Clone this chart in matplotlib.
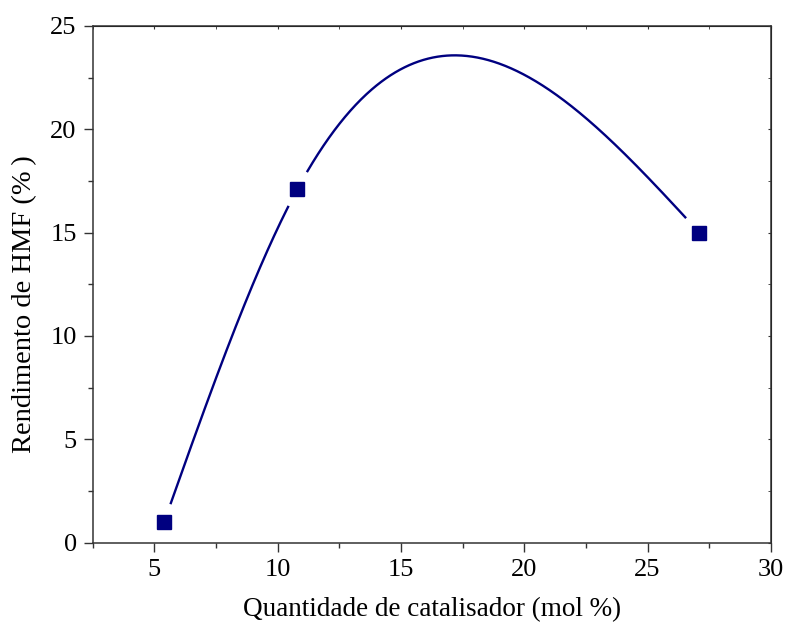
import numpy as np
import matplotlib
matplotlib.use('Agg')
import matplotlib.pyplot as plt
from matplotlib.ticker import MultipleLocator

plt.rcParams['font.family'] = ['Liberation Serif', 'DejaVu Serif']
plt.rcParams['mathtext.fontset'] = 'stix'

# catalyst loading (mol %) vs HMF yield (%)
catalisador = [5.4, 10.8, 27.1]
rendimento = [1.0, 17.1, 15.0]

COR = '#000080'


def natural_spline(x, y, xs):
    """Natural cubic spline through (x, y), evaluated at xs."""
    x = np.asarray(x, float)
    y = np.asarray(y, float)
    n = len(x)
    h = np.diff(x)
    A = np.zeros((n, n))
    r = np.zeros(n)
    A[0, 0] = A[-1, -1] = 1.0
    for i in range(1, n - 1):
        A[i, i - 1] = h[i - 1]
        A[i, i] = 2 * (h[i - 1] + h[i])
        A[i, i + 1] = h[i]
        r[i] = 6 * ((y[i + 1] - y[i]) / h[i] - (y[i] - y[i - 1]) / h[i - 1])
    M = np.linalg.solve(A, r)
    out = np.empty_like(xs)
    for k, xv in enumerate(xs):
        i = min(max(np.searchsorted(x, xv) - 1, 0), n - 2)
        a, b = x[i + 1] - xv, xv - x[i]
        out[k] = (M[i] * a ** 3 + M[i + 1] * b ** 3) / (6 * h[i]) \
            + (y[i] - M[i] * h[i] ** 2 / 6) * a / h[i] \
            + (y[i + 1] - M[i + 1] * h[i] ** 2 / 6) * b / h[i]
    return out


fig = plt.figure(figsize=(7.85, 6.31), dpi=100)
ax = fig.add_axes([0.118, 0.140, 0.864, 0.819])
ax.set_xlim(2.5, 30)
ax.set_ylim(0, 25)

xs = np.linspace(catalisador[0], catalisador[-1], 800)
ys = natural_spline(catalisador, rendimento, xs)

# leave a gap in the curve around each symbol
pts = ax.transData.transform(np.column_stack([xs, ys]))
mk = ax.transData.transform(np.column_stack([catalisador, rendimento]))
gap = np.zeros(len(xs), bool)
for p in mk:
    gap |= np.hypot(pts[:, 0] - p[0], pts[:, 1] - p[1]) < 20
ys_line = np.where(gap, np.nan, ys)

ax.plot(xs, ys_line, color=COR, lw=1.7, zorder=2)
ax.plot(catalisador, rendimento, 's', color=COR, ms=10.5, mec=COR, zorder=3)

ax.xaxis.set_major_locator(MultipleLocator(5))
ax.xaxis.set_minor_locator(MultipleLocator(2.5))
ax.yaxis.set_major_locator(MultipleLocator(5))
ax.yaxis.set_minor_locator(MultipleLocator(2.5))

for s in ax.spines.values():
    s.set_color('#333333')
    s.set_linewidth(1.1)

ax.tick_params(which='both', direction='out', color='#333333', width=1.0,
               labelsize=19, top=False, right=False, pad=5)
ax.tick_params(which='major', length=6.5)
ax.tick_params(which='minor', length=3.5)

# short inward ticks on top and right
top = ax.secondary_xaxis('top')
top.xaxis.set_major_locator(MultipleLocator(5))
top.xaxis.set_minor_locator(MultipleLocator(2.5))
top.tick_params(which='both', direction='in', length=2.5, color='#333333',
                labeltop=False)
right = ax.secondary_yaxis('right')
right.yaxis.set_major_locator(MultipleLocator(5))
right.yaxis.set_minor_locator(MultipleLocator(2.5))
right.tick_params(which='both', direction='in', length=2.5, color='#333333',
                  labelright=False)

ax.set_xlabel('Quantidade de catalisador (mol %)', fontsize=19.5, labelpad=12)
ax.set_ylabel('Rendimento de HMF (%\u2009)', fontsize=20.5)
ax.yaxis.set_label_coords(-0.082, 0.462)

fig.savefig('out.png', dpi=100)
